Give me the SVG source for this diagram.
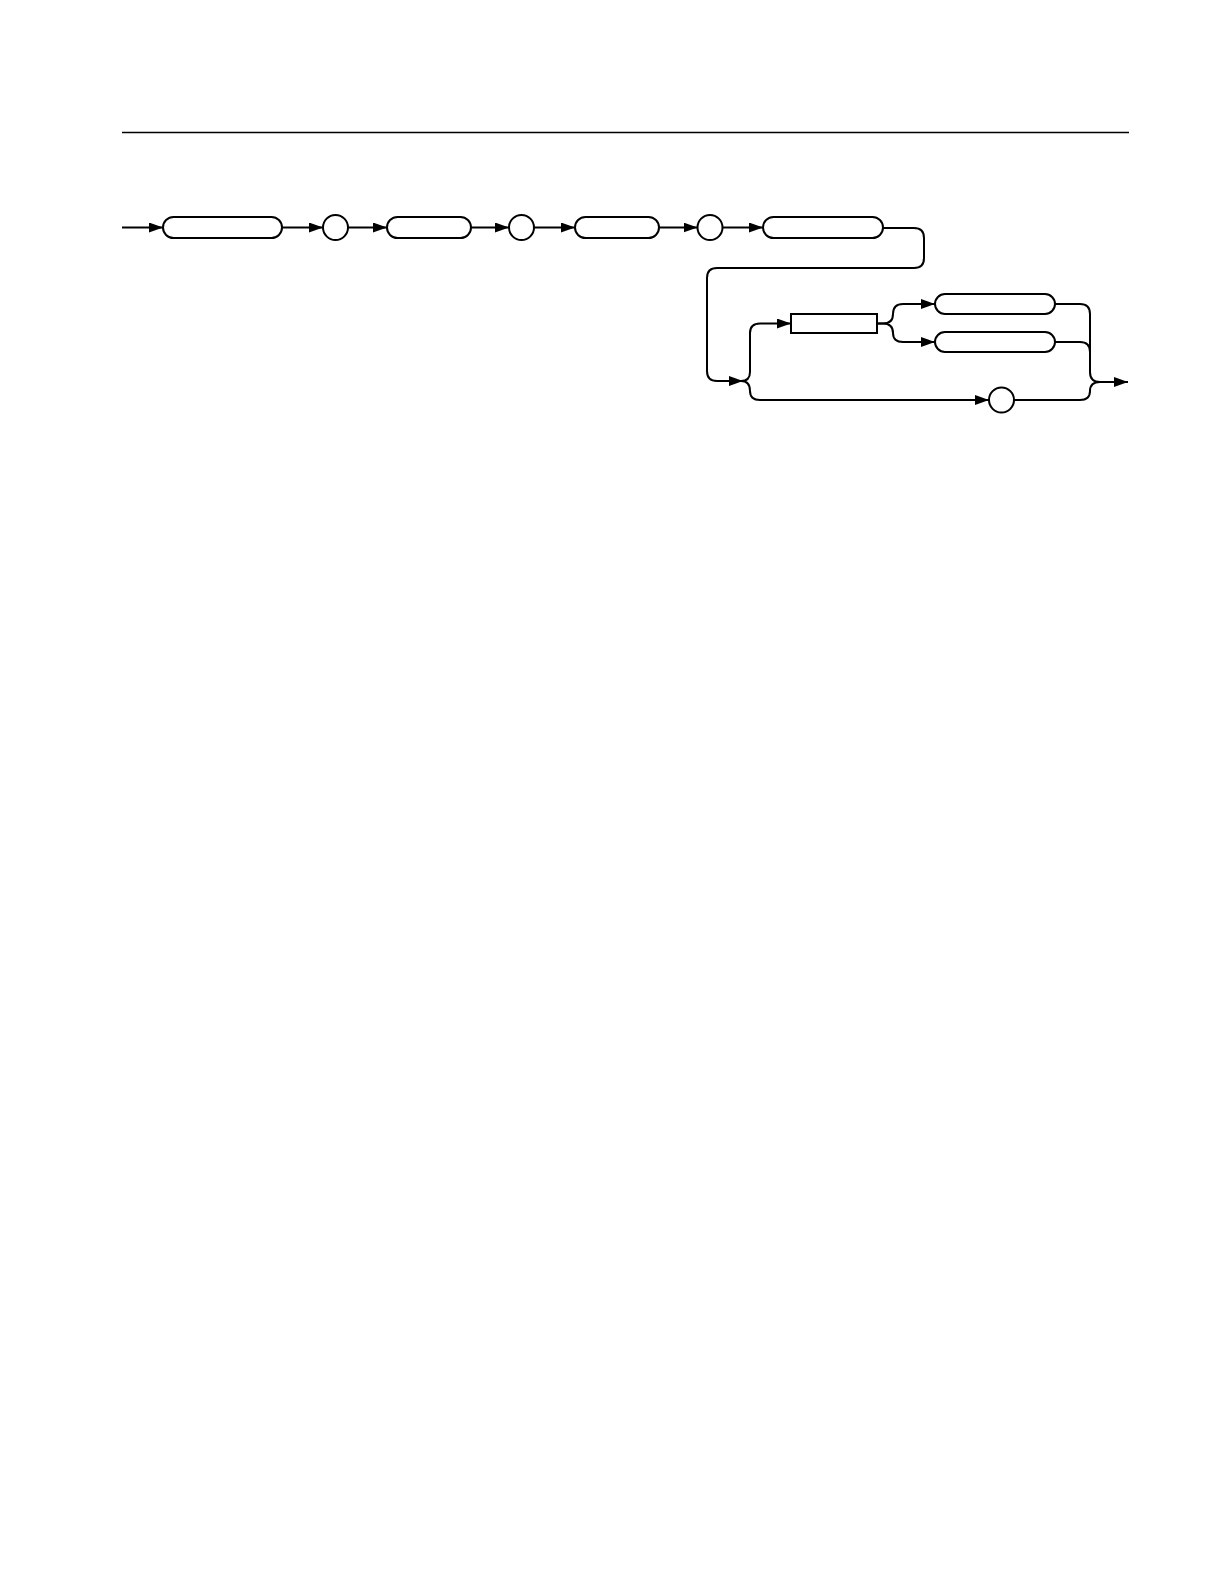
<svg xmlns="http://www.w3.org/2000/svg" width="1224" height="1584" viewBox="0 0 1224 1584">
<style>
.n{fill:#fff;stroke:#000;stroke-width:2}
.c{fill:none;stroke:#000;stroke-width:2}
</style>
<defs>
<marker id="ah" markerUnits="userSpaceOnUse" markerWidth="15" markerHeight="11" refX="14" refY="5" orient="auto">
<path d="M0,0 L14,5 L0,10 z" fill="#000"/>
</marker>
</defs>
<rect x="0" y="0" width="1224" height="1584" fill="#fff"/>
<line x1="122" y1="132.5" x2="1129" y2="132.5" stroke="#000" stroke-width="1.3"/>
<g id="connectors">
<path class="c" d="M122,227.5 L163,227.5" marker-end="url(#ah)"/>
<path class="c" d="M282,227.5 L323,227.5" marker-end="url(#ah)"/>
<path class="c" d="M348,227.5 L387,227.5" marker-end="url(#ah)"/>
<path class="c" d="M471,227.5 L509,227.5" marker-end="url(#ah)"/>
<path class="c" d="M534,227.5 L575,227.5" marker-end="url(#ah)"/>
<path class="c" d="M659,227.5 L697.5,227.5" marker-end="url(#ah)"/>
<path class="c" d="M722.5,227.5 L763,227.5" marker-end="url(#ah)"/>
<path class="c" d="M883,228 L914,228 Q924,228 924,238 L924,258 Q924,268 914,268 L717,268 Q707,268 707,278 L707,371 Q707,381 717,381 L743,381" marker-end="url(#ah)"/>
<path class="c" d="M741,381 Q750,381 750,372 L750,333 Q750,323.5 760,323.5 L791,323.5" marker-end="url(#ah)"/>
<path class="c" d="M741,381 Q750,381 750,391 Q750,400 760,400 L989,400" marker-end="url(#ah)"/>
<path class="c" d="M877,323.5 L883,323.5 Q893,323.5 893,314 Q893,304 903,304 L935,304" marker-end="url(#ah)"/>
<path class="c" d="M877,323.5 L883,323.5 Q893,323.5 893,333 Q893,342 903,342 L935,342" marker-end="url(#ah)"/>
<path class="c" d="M1055,304 L1080,304 Q1090,304 1090,314 L1090,372 Q1090,382 1100,382 L1128,382" marker-end="url(#ah)"/>
<path class="c" d="M1055,342 L1080,342 Q1090,342 1090,352"/>
<path class="c" d="M1014,400 L1080,400 Q1090,400 1090,391 Q1090,382 1100,382"/>
</g>
<g id="n1"><rect class="n" x="163" y="217" width="119" height="21" rx="10.5"/></g>
<g id="n2"><circle class="n" cx="335.5" cy="227.5" r="12.5"/></g>
<g id="n3"><rect class="n" x="387" y="217" width="84" height="21" rx="10.5"/></g>
<g id="n4"><circle class="n" cx="521.5" cy="227.5" r="12.5"/></g>
<g id="n5"><rect class="n" x="575" y="217" width="84" height="21" rx="10.5"/></g>
<g id="n6"><circle class="n" cx="710" cy="227.5" r="12.5"/></g>
<g id="n7"><rect class="n" x="763" y="217" width="120" height="21" rx="10.5"/></g>
<g id="n8"><rect class="n" x="791" y="314" width="86" height="19"/></g>
<g id="n9"><rect class="n" x="935" y="294" width="120" height="20" rx="10"/></g>
<g id="n10"><rect class="n" x="935" y="332" width="120" height="20" rx="10"/></g>
<g id="n11"><circle class="n" cx="1001.5" cy="400" r="12.5"/></g>
</svg>
